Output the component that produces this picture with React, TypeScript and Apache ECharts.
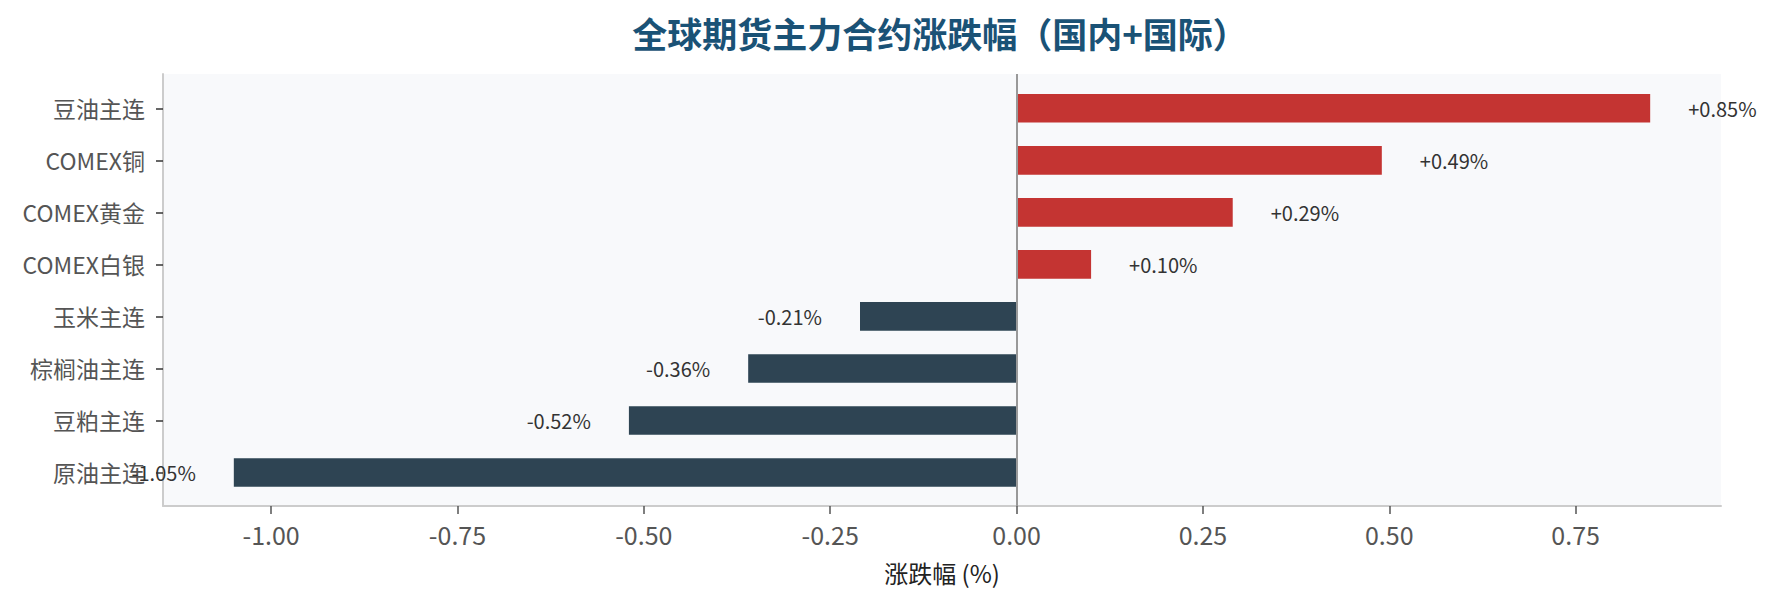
import React, { useEffect, useRef } from "react";
import * as echarts from "echarts";

const categories = ["豆油主连", "COMEX铜", "COMEX黄金", "COMEX白银", "玉米主连", "棕榈油主连", "豆粕主连", "原油主连"];
const changes = [0.85, 0.49, 0.29, 0.10, -0.21, -0.36, -0.52, -1.05];
const xTicks = [-1.0, -0.75, -0.5, -0.25, 0, 0.25, 0.5, 0.75];
const titleText = "全球期货主力合约涨跌幅（国内+国际）";
const xName = "涨跌幅 (%)";

const FONT = "'Noto Sans CJK SC', 'Noto Sans', sans-serif";
const UP = "#c43432";
const DOWN = "#2e4453";
const X_MIN = -1.145;
const X_MAX = 0.945;

export default function App() {
  const ref = useRef<HTMLDivElement>(null);
  useEffect(() => {
    if (!ref.current) return;
    const chart = echarts.init(ref.current, null, { renderer: "svg" });
    const data = changes.map((v) => ({
      value: v,
      itemStyle: { color: v >= 0 ? UP : DOWN },
      label: { position: v >= 0 ? "right" : "left" },
    }));
    chart.setOption({
      animation: false,
      textStyle: { fontFamily: FONT },
      title: {
        text: titleText,
        left: 935,
        top: 10,
        textAlign: "center",
        textStyle: { fontFamily: FONT, fontSize: 35, fontWeight: "bold", color: "#1a5276" },
      },
      grid: [
        { left: 163, top: 74, width: 1558, height: 432, show: true, backgroundColor: "#f8f9fb", borderWidth: 0 },
        { left: 163, top: 82.3, width: 1558, height: 416.2, show: false },
      ],
      xAxis: [
        {
          type: "value",
          gridIndex: 0,
          min: X_MIN,
          max: X_MAX,
          splitLine: { show: false },
          axisLine: { show: true, onZero: false, lineStyle: { color: "#cccccc", width: 2 } },
          axisTick: { show: true, customValues: xTicks, length: 8, lineStyle: { color: "#555555", width: 1.5 } },
          axisLabel: {
            customValues: xTicks,
            formatter: (v: number) => v.toFixed(2),
            fontSize: 25,
            color: "#555555",
            margin: 15,
            fontFamily: FONT,
          },
          name: xName,
          nameLocation: "middle",
          nameGap: 54,
          nameTextStyle: { fontSize: 24, color: "#222222", fontFamily: FONT },
        },
        {
          type: "value",
          gridIndex: 1,
          min: X_MIN,
          max: X_MAX,
          show: false,
        },
      ],
      yAxis: [
        {
          type: "value",
          gridIndex: 0,
          min: 0,
          max: 1,
          splitLine: { show: false },
          axisLine: { show: true, onZero: false, lineStyle: { color: "#cccccc", width: 2 } },
          axisTick: { show: false },
          axisLabel: { show: false },
        },
        {
          type: "category",
          gridIndex: 1,
          inverse: true,
          data: categories,
          axisLine: { show: false, onZero: false },
          axisTick: { show: true, alignWithLabel: true, length: 7, lineStyle: { color: "#333333", width: 1.5 } },
          axisLabel: { fontSize: 23, color: "#555555", margin: 18, fontFamily: FONT },
        },
      ],
      series: [
        {
          type: "line",
          xAxisIndex: 0,
          yAxisIndex: 0,
          data: [],
          silent: true,
          markLine: {
            silent: true,
            symbol: ["none", "none"],
            label: { show: false },
            lineStyle: { color: "#999999", width: 2, type: "solid" },
            data: [{ xAxis: 0 }],
          },
        },
        {
          type: "bar",
          xAxisIndex: 1,
          yAxisIndex: 1,
          data,
          barWidth: 28.6,
          label: {
            show: true,
            distance: 38,
            fontSize: 20,
            color: "#333333",
            fontFamily: FONT,
            formatter: (p: any) => (p.value > 0 ? "+" : "") + Number(p.value).toFixed(2) + "%",
          },
        },
      ],
    });
    return () => chart.dispose();
  }, []);
  return <div ref={ref} style={{ position: "fixed", left: 0, top: 0, width: 1777, height: 604, background: "#fff" }} />;
}
